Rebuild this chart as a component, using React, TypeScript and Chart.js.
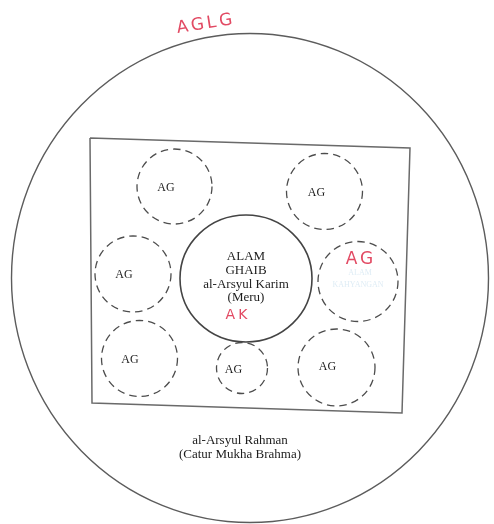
import React, { useEffect, useRef } from "react";
import { Chart, registerables } from "chart.js";
Chart.register(...registerables);

const W = 494;
const H = 524;

// Outer circle: al-Arsyul Rahman
const outerCenter = [250, 278];
const outerRadii = [238.5, 244.5];
const outerLabel = ["al-Arsyul Rahman", "(Catur Mukha Brahma)"];
const outerLabelX = [240, 240];
const outerLabelY = [441, 455];

// Frame (slightly skewed scan rectangle)
const frameX = [90, 410, 402, 92, 90];
const frameY = [138, 148, 413, 403, 138];

// Central circle
const coreCenter = [246, 278.5];
const coreRadii = [66, 63.5];
const coreLines = ["ALAM", "GHAIB", "al-Arsyul Karim", "(Meru)"];
const coreLineY = [257, 271, 285, 298];

// Satellite dashed circles
const satX = [174.5, 324.5, 133, 358, 139.5, 242, 336.5];
const satY = [186.5, 191.5, 274, 281.5, 358.5, 368, 367.5];
const satR = [37.5, 38, 38, 40, 38, 25.5, 38.5];
const satLabels = ["AG", "AG", "AG", "", "AG", "AG", "AG"];
const satLabelX = [166, 316.5, 124, 0, 130, 233.5, 327.5];
const satLabelY = [188, 193, 275, 0, 360, 370, 367];

// Red handwritten annotations
const redNotes = ["AGLG", "AG", "AK"];
const redNoteX = [206, 361, 238];
const redNoteY = [24, 260, 315];
const redNoteSize = [17, 17, 14];
const redNoteAngle = [-9, 0, 0];

// Faint (erased) blue text in the right circle
const faintLines = ["ALAM", "KAHYANGAN"];
const faintX = [360, 358];
const faintY = [273, 285];

export default function App() {
  const ref = useRef<HTMLCanvasElement | null>(null);
  useEffect(() => {
    if (!ref.current) return;
    const drawer = {
      id: "diagram",
      afterDatasetsDraw(chart: any) {
        const ctx = chart.ctx as CanvasRenderingContext2D;
        const xs = chart.scales.x;
        const ys = chart.scales.y;
        const px = (v: number) => xs.getPixelForValue(v);
        const py = (v: number) => ys.getPixelForValue(v);
        const rx = (cx: number, r: number) => Math.abs(px(cx + r) - px(cx));
        const ry = (cy: number, r: number) => Math.abs(py(cy + r) - py(cy));
        ctx.save();
        // outer circle
        ctx.strokeStyle = "#5c5c5c";
        ctx.lineWidth = 1.4;
        ctx.beginPath();
        ctx.ellipse(px(outerCenter[0]), py(outerCenter[1]), rx(outerCenter[0], outerRadii[0]), ry(outerCenter[1], outerRadii[1]), 0, 0, Math.PI * 2);
        ctx.stroke();
        // core circle
        ctx.strokeStyle = "#444";
        ctx.lineWidth = 1.6;
        ctx.beginPath();
        ctx.ellipse(px(coreCenter[0]), py(coreCenter[1]), rx(coreCenter[0], coreRadii[0]), ry(coreCenter[1], coreRadii[1]), 0, 0, Math.PI * 2);
        ctx.stroke();
        // dashed satellites
        ctx.strokeStyle = "#4d4d4d";
        ctx.lineWidth = 1.3;
        ctx.setLineDash([7.5, 5]);
        satX.forEach((x, i) => {
          ctx.beginPath();
          ctx.ellipse(px(x), py(satY[i]), rx(x, satR[i]), ry(satY[i], satR[i]), 0, 0, Math.PI * 2);
          ctx.stroke();
        });
        ctx.setLineDash([]);
        // texts
        ctx.textAlign = "center";
        ctx.textBaseline = "middle";
        ctx.fillStyle = "#1c1c1c";
        ctx.font = '13px "Liberation Serif", "DejaVu Serif", serif';
        coreLines.forEach((t, i) => ctx.fillText(t, px(coreCenter[0]), py(coreLineY[i])));
        outerLabel.forEach((t, i) => ctx.fillText(t, px(outerLabelX[i]), py(outerLabelY[i])));
        ctx.font = '12px "Liberation Serif", "DejaVu Serif", serif';
        satLabels.forEach((t, i) => {
          if (t) ctx.fillText(t, px(satLabelX[i]), py(satLabelY[i]));
        });
        // faint blue
        ctx.fillStyle = "rgba(160,200,225,0.35)";
        ctx.font = '8px "Liberation Serif", serif';
        faintLines.forEach((t, i) => ctx.fillText(t, px(faintX[i]), py(faintY[i])));
        // red notes
        ctx.fillStyle = "#e24a63";
        redNotes.forEach((t, i) => {
          ctx.save();
          ctx.translate(px(redNoteX[i]), py(redNoteY[i]));
          ctx.rotate((redNoteAngle[i] * Math.PI) / 180);
          ctx.font = `${redNoteSize[i]}px "DejaVu Sans", sans-serif`;
          (ctx as any).letterSpacing = "3px";
          ctx.fillText(t, 0, 0);
          ctx.restore();
        });
        ctx.restore();
      },
    };
    const chart = new Chart(ref.current, {
      type: "scatter",
      data: {
        datasets: [
          {
            data: frameX.map((x, i) => ({ x, y: frameY[i] })),
            showLine: true,
            borderColor: "#6a6a6a",
            borderWidth: 1.5,
            pointRadius: 0,
            fill: false,
            tension: 0,
            clip: false,
          } as any,
        ],
      },
      options: {
        responsive: false,
        animation: false,
        devicePixelRatio: 1,
        layout: { padding: 0 },
        scales: {
          x: { type: "linear", min: 0, max: W, display: false },
          y: { type: "linear", min: 0, max: H, reverse: true, display: false },
        },
        plugins: { legend: { display: false }, tooltip: { enabled: false } },
      },
      plugins: [drawer],
    });
    return () => chart.destroy();
  }, []);
  return (
    <div style={{ position: "absolute", left: 0, top: 0, width: W, height: H, background: "#fff" }}>
      <canvas ref={ref} width={W} height={H} />
    </div>
  );
}
